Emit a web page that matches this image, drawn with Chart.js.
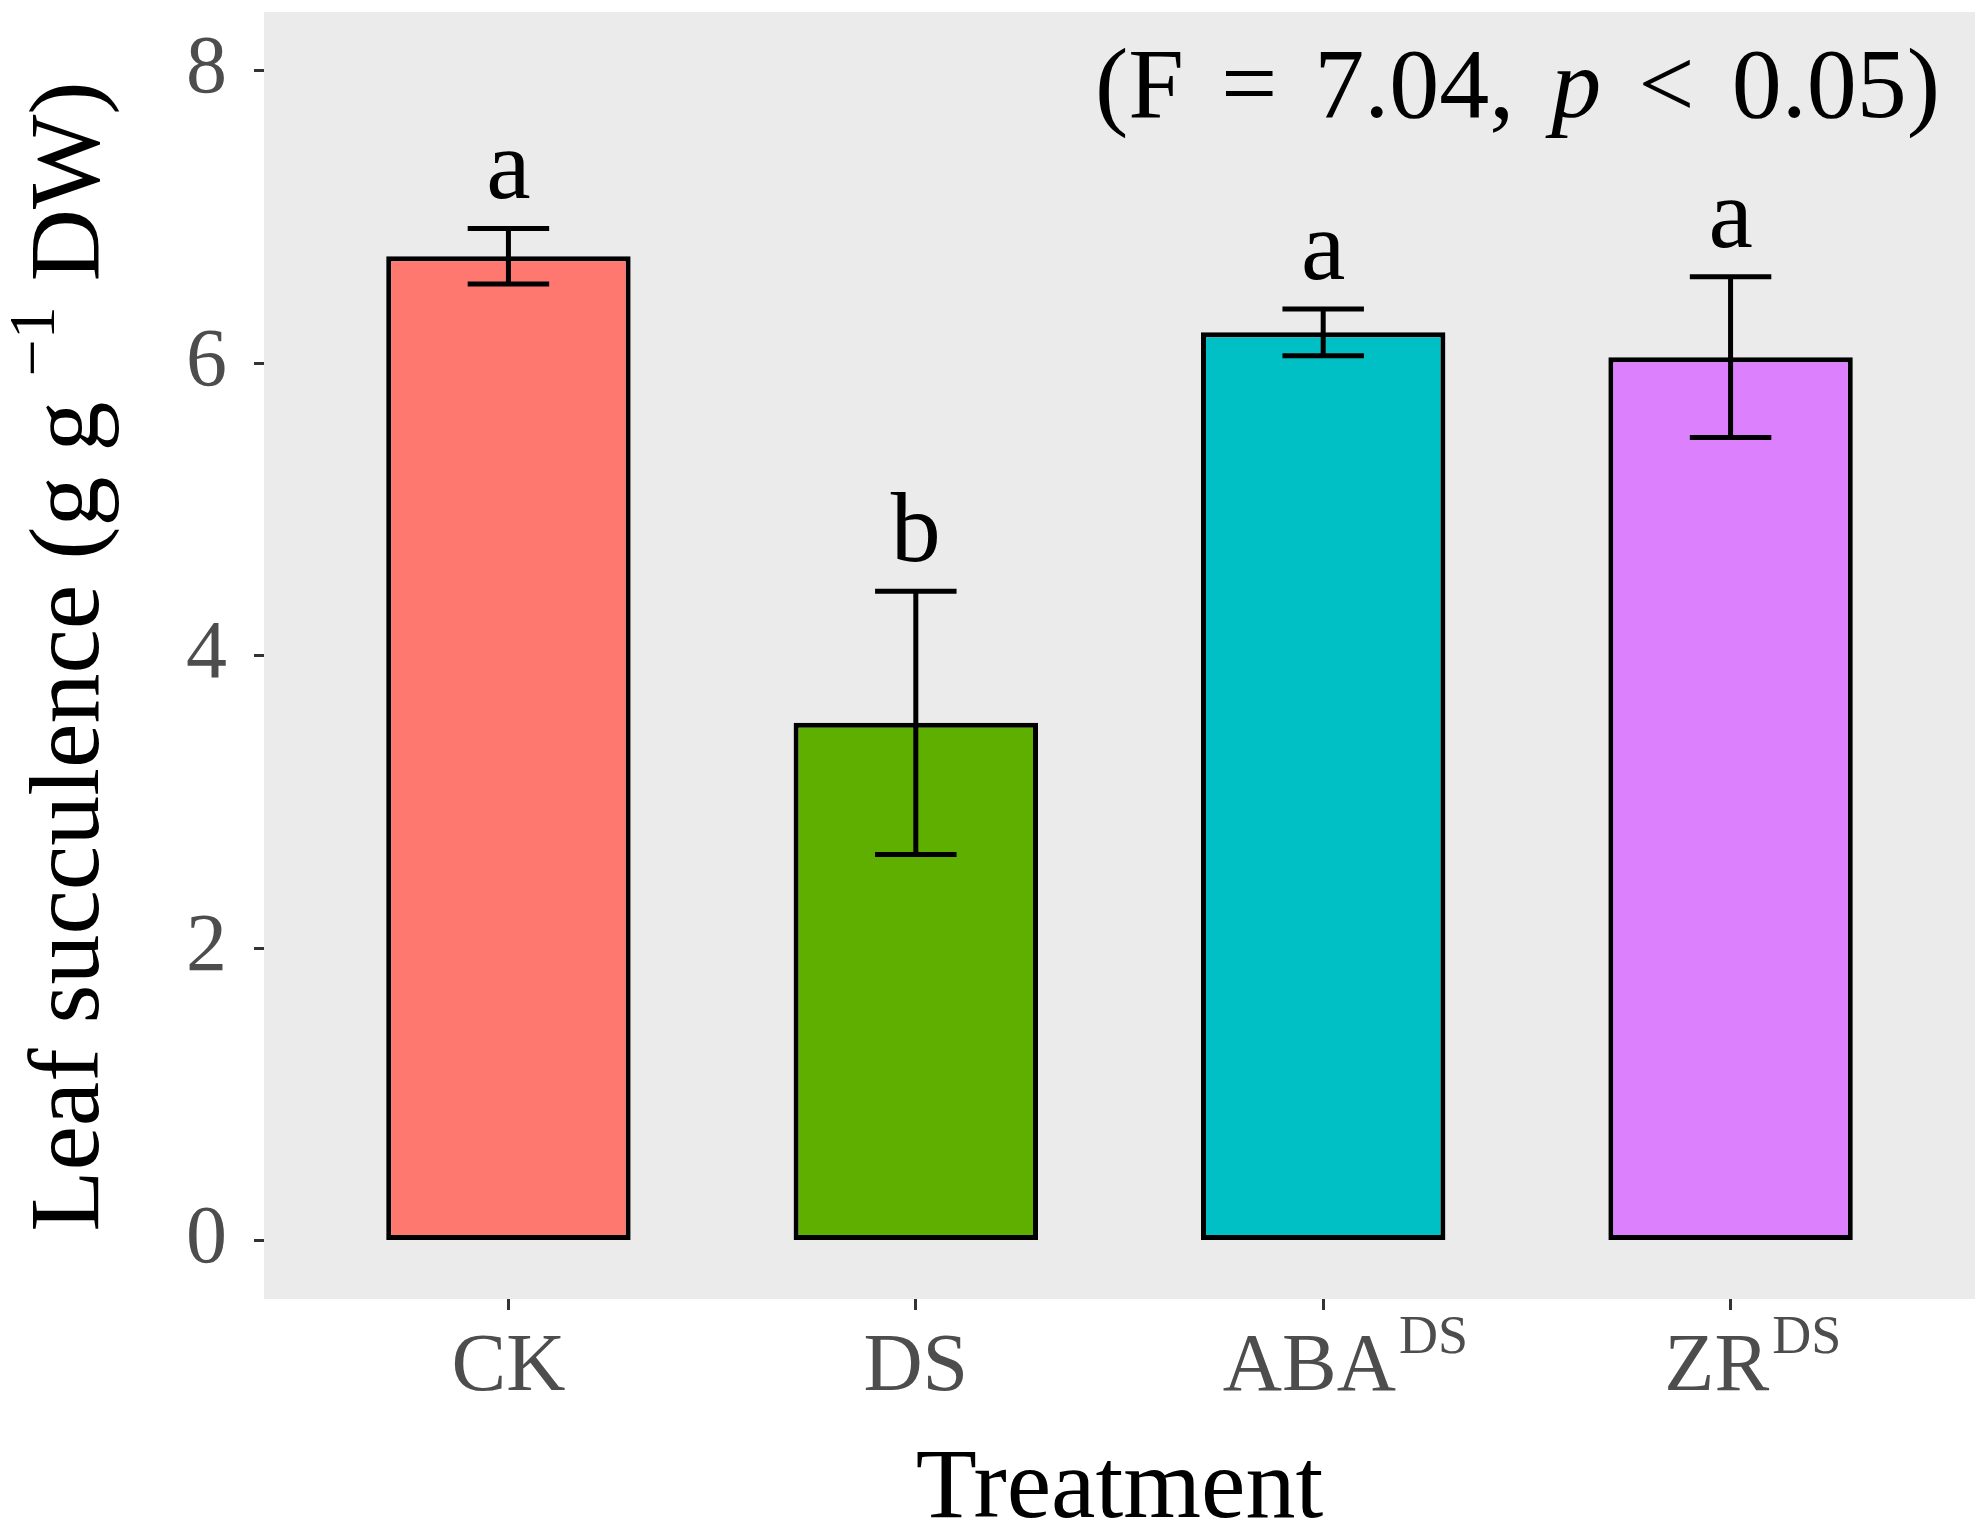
<!DOCTYPE html>
<html>
<head>
<meta charset="utf-8">
<title>Leaf succulence</title>
<script src="https://cdn.jsdelivr.net/npm/chart.js@4.4.1/dist/chart.umd.min.js"></script>
<style>
  html, body { margin: 0; padding: 0; background: #fff; }
  #wrap { width: 1987px; height: 1538px; }
  canvas { display: block; }
</style>
</head>
<body>
<div id="wrap"><canvas id="chart" width="1987" height="1538"></canvas></div>
<script>
/* Leaf succulence by treatment — bar chart with SE bars */

const categories = ['CK', 'DS', 'ABA', 'ZR'];
const superscripts = ['', '', 'DS', 'DS'];
const means = [6.73, 3.54, 6.21, 6.04];
const errors = [0.19, 0.90, 0.16, 0.55];
const letters = ['a', 'b', 'a', 'a'];
const barColors = ['#FE7870', '#5FAF00', '#00C0C5', '#DD80FE'];
const yTicks = [0, 2, 4, 6, 8];

const SERIF = '"Liberation Serif", "Times New Roman", serif';
const TICK_GREY = '#4D4D4D';

/* ─── panel background ─── */
const panelBg = {
  id: 'panelBg',
  beforeDraw(chart) {
    const { ctx, chartArea: a } = chart;
    ctx.save();
    ctx.fillStyle = '#fff';
    ctx.fillRect(0, 0, chart.width, chart.height);
    ctx.fillStyle = '#EBEBEB';
    ctx.fillRect(a.left, a.top, a.right - a.left, a.bottom - a.top);
    ctx.restore();
  }
};

/* ─── error bars + significance letters ─── */
const errorBars = {
  id: 'errorBars',
  afterDatasetsDraw(chart) {
    const { ctx, scales: { x, y } } = chart;
    const half = x.getPixelForValue(0.1) - x.getPixelForValue(0);
    ctx.save();
    ctx.strokeStyle = '#000';
    ctx.lineWidth = 5;
    ctx.lineCap = 'butt';
    means.forEach((m, i) => {
      const px = x.getPixelForValue(i);
      const top = y.getPixelForValue(m + errors[i]);
      const bot = y.getPixelForValue(m - errors[i]);
      ctx.beginPath();
      ctx.moveTo(px, top); ctx.lineTo(px, bot);
      ctx.moveTo(px - half, top); ctx.lineTo(px + half, top);
      ctx.moveTo(px - half, bot); ctx.lineTo(px + half, bot);
      ctx.stroke();

      ctx.fillStyle = '#000';
      ctx.font = '100px ' + SERIF;
      ctx.textAlign = 'center';
      ctx.textBaseline = 'alphabetic';
      ctx.fillText(letters[i], px, top - 30);
    });
    ctx.restore();
  }
};

/* ─── labels with superscripts, titles, annotation ─── */
const textLayer = {
  id: 'textLayer',
  afterDraw(chart) {
    const { ctx, chartArea: a, scales: { x } } = chart;
    ctx.save();
    ctx.textBaseline = 'alphabetic';
    ctx.textAlign = 'left';

    // x tick labels
    categories.forEach((c, i) => {
      const px = x.getPixelForValue(i);
      const base = a.bottom + 91;
      ctx.fillStyle = TICK_GREY;
      ctx.font = '82px ' + SERIF;
      const mw = ctx.measureText(c).width;
      let sw = 0;
      if (superscripts[i]) {
        ctx.font = '54px ' + SERIF;
        sw = ctx.measureText(superscripts[i]).width;
      }
      const start = px - mw / 2 - sw * 0.2;
      ctx.font = '82px ' + SERIF;
      ctx.fillText(c, start, base);
      if (sw) {
        ctx.font = '54px ' + SERIF;
        ctx.fillText(superscripts[i], start + mw + 3, base - 37);
      }
    });

    // x title
    ctx.fillStyle = '#000';
    ctx.font = '100px ' + SERIF;
    ctx.textAlign = 'center';
    ctx.fillText('Treatment', (a.left + a.right) / 2, 1517);

    // y title (rotated), with superscript −1
    const pre = 'Leaf succulence (g g ';
    const sup = '\u22121';
    const post = ' DW)';
    ctx.font = '100px ' + SERIF;
    const w1 = ctx.measureText(pre).width;
    const w3 = ctx.measureText(post).width;
    ctx.font = '66px ' + SERIF;
    const w2 = ctx.measureText(sup).width;
    const total = w1 + w2 + w3;
    ctx.translate(98, (a.top + a.bottom) / 2 + 1);
    ctx.rotate(-Math.PI / 2);
    ctx.textAlign = 'left';
    let cx = -total / 2;
    ctx.font = '100px ' + SERIF;
    ctx.fillText(pre, cx, 0);
    cx += w1;
    ctx.font = '66px ' + SERIF;
    ctx.fillText(sup, cx, -44);
    cx += w2;
    ctx.font = '100px ' + SERIF;
    ctx.fillText(post, cx, 0);
    ctx.setTransform(1, 0, 0, 1, 0, 0);

    // annotation (F = 7.04, p < 0.05)
    const parts = [['(F', ''], ['=', ''], ['7.04,', ''], ['p', 'italic '], ['<', ''], ['0.05)', '']];
    const target = 845;
    let sum = 0;
    const widths = parts.map(([t, st]) => {
      ctx.font = st + '100px ' + SERIF;
      const w = ctx.measureText(t).width;
      sum += w;
      return w;
    });
    const gap = (target - sum) / (parts.length - 1);
    let ax = 1940 - target;
    ctx.textAlign = 'left';
    ctx.fillStyle = '#000';
    parts.forEach(([t, st], i) => {
      ctx.font = st + '100px ' + SERIF;
      ctx.fillText(t, ax, 117);
      ax += widths[i] + gap;
    });
    ctx.restore();
  }
};

function draw() {
  const ctx = document.getElementById('chart').getContext('2d');
  new Chart(ctx, {
    type: 'bar',
    data: {
      datasets: [{
        data: categories.map((c, i) => ({ x: i, y: means[i] })),
        backgroundColor: barColors,
        borderColor: '#000',
        borderWidth: 5,
        borderSkipped: false,
        barPercentage: 1,
        categoryPercentage: 0.6
      }]
    },
    options: {
      responsive: false,
      devicePixelRatio: 1,
      animation: false,
      layout: { padding: { top: 12, right: 12, left: 0, bottom: 0 } },
      plugins: { legend: { display: false }, tooltip: { enabled: false } },
      scales: {
        x: {
          type: 'linear',
          min: -0.6,
          max: 3.6,
          offset: false,
          afterBuildTicks: s => { s.ticks = categories.map((c, i) => ({ value: i })); },
          afterFit: s => { s.height = 239; s.paddingLeft = 0; s.paddingRight = 0; },
          grid: { offset: false, drawOnChartArea: false, drawTicks: true, tickLength: 11, tickWidth: 3, tickColor: '#333333' },
          border: { display: false },
          ticks: { display: false }
        },
        y: {
          min: -0.4,
          max: 8.4,
          afterBuildTicks: s => { s.ticks = yTicks.map(v => ({ value: v })); },
          afterFit: s => { s.width = 264; s.paddingTop = 0; s.paddingBottom = 0; },
          grid: { drawOnChartArea: false, drawTicks: true, tickLength: 10, tickWidth: 3, tickColor: '#333333' },
          border: { display: false },
          ticks: {
            color: TICK_GREY,
            padding: 27,
            font: { family: SERIF, size: 82 },
            callback: v => String(v)
          }
        }
      }
    },
    plugins: [panelBg, errorBars, textLayer]
  });
}

Promise.all([
  document.fonts.load('82px "Liberation Serif"'),
  document.fonts.load('italic 100px "Liberation Serif"')
]).then(draw, draw);
</script>
</body>
</html>
